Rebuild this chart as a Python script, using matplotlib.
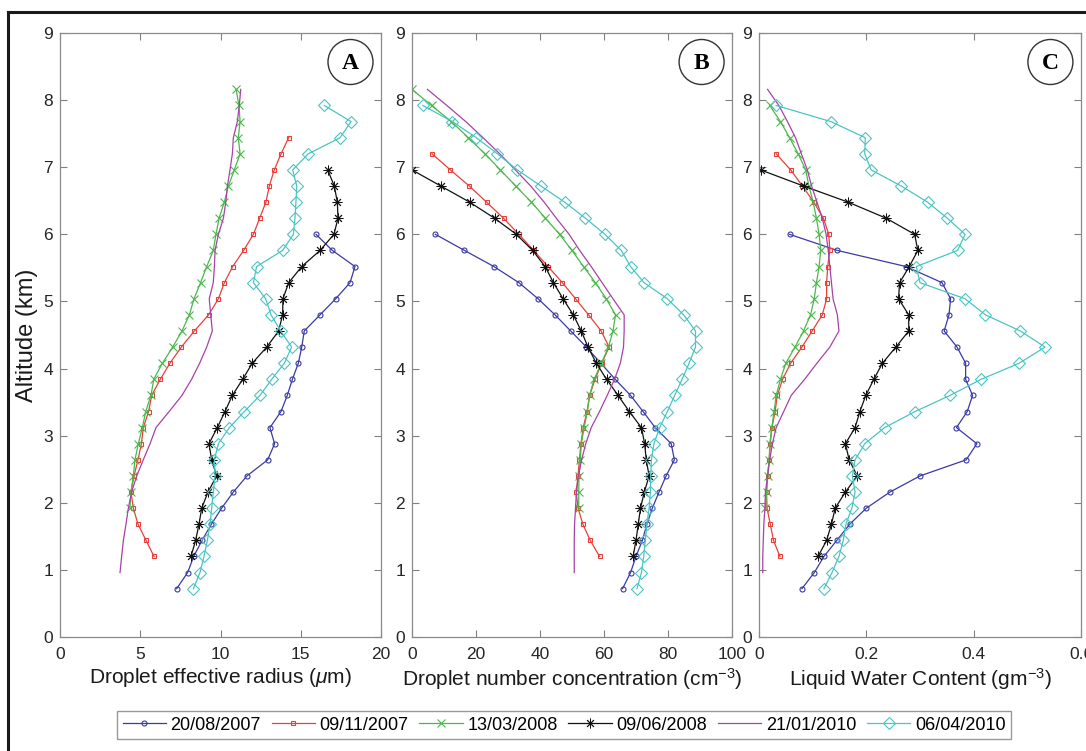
import matplotlib
matplotlib.use("Agg")
import matplotlib.pyplot as plt
from matplotlib.patches import Ellipse
from matplotlib.lines import Line2D

plt.rcParams['font.family'] = ['Liberation Sans', 'DejaVu Sans']
plt.rcParams['mathtext.fontset'] = 'custom'
plt.rcParams['mathtext.rm'] = 'Liberation Sans'
plt.rcParams['mathtext.it'] = 'Liberation Sans:italic'

# date delle campagne (legenda)
dates = ['20/08/2007', '09/11/2007', '13/03/2008', '09/06/2008', '21/01/2010', '06/04/2010']

# quote (km), dall'alto verso il basso
alt_blue = [6.00, 5.76, 5.52, 5.28, 5.04, 4.80, 4.56, 4.32, 4.08, 3.84, 3.60, 3.36,
            3.12, 2.88, 2.64, 2.40, 2.16, 1.92, 1.68, 1.44, 1.20, 0.96, 0.72]
alt_red_a = [7.44, 7.20, 6.96, 6.72, 6.48, 6.24, 6.00, 5.76, 5.52, 5.28, 5.04, 4.80, 4.56,
             4.32, 4.08, 3.84, 3.60, 3.36, 3.12, 2.88, 2.64, 2.40, 2.16, 1.92, 1.68, 1.44, 1.20]
alt_red = [7.20, 6.96, 6.72, 6.48, 6.24, 6.00, 5.76, 5.52, 5.28, 5.04, 4.80, 4.56,
           4.32, 4.08, 3.84, 3.60, 3.36, 3.12, 2.88, 2.64, 2.40, 2.16, 1.92, 1.68, 1.44, 1.20]
alt_green = [8.16, 7.92, 7.68, 7.44, 7.20, 6.96, 6.72, 6.48, 6.24, 6.00, 5.76, 5.52, 5.28, 5.04,
             4.80, 4.56, 4.32, 4.08, 3.84, 3.60, 3.36, 3.12, 2.88, 2.64, 2.40, 2.16, 1.92]
alt_green_c = [7.92, 7.68, 7.44, 7.20, 6.96, 6.72, 6.48, 6.24, 6.00, 5.76, 5.52, 5.28, 5.04,
               4.80, 4.56, 4.32, 4.08, 3.84, 3.60, 3.36, 3.12, 2.88, 2.64, 2.40, 2.16, 1.92]
alt_black = [6.96, 6.72, 6.48, 6.24, 6.00, 5.76, 5.52, 5.28, 5.04, 4.80, 4.56, 4.32, 4.08,
             3.84, 3.60, 3.36, 3.12, 2.88, 2.64, 2.40, 2.16, 1.92, 1.68, 1.44, 1.20]
alt_magenta = [8.16, 7.92, 7.68, 7.44, 7.20, 6.96, 6.72, 6.48, 6.24, 6.00, 5.76, 5.52, 5.28, 5.04,
               4.80, 4.56, 4.32, 4.08, 3.84, 3.60, 3.36, 3.12, 2.88, 2.64, 2.40, 2.16, 1.92,
               1.68, 1.44, 1.20, 0.96]
alt_cyan = [7.92, 7.68, 7.44, 7.20, 6.96, 6.72, 6.48, 6.24, 6.00, 5.76, 5.52, 5.28, 5.04,
            4.80, 4.56, 4.32, 4.08, 3.84, 3.60, 3.36, 3.12, 2.88, 2.64, 2.40, 2.16, 1.92,
            1.68, 1.44, 1.20, 0.96, 0.72]

# A - raggio efficace (um)
reff_blue = [15.95, 16.97, 18.38, 18.07, 17.18, 16.2, 15.22, 15.06, 14.85, 14.48, 14.16, 13.77,
             13.08, 13.37, 12.94, 11.65, 10.8, 10.07, 9.43, 8.85, 8.33, 7.95, 7.27]
reff_red = [14.25, 13.77, 13.35, 13.04, 12.83, 12.44, 12.05, 11.44, 10.76, 10.24, 9.87, 9.26, 8.37,
            7.56, 6.85, 6.25, 5.71, 5.52, 5.19, 5.07, 4.86, 4.61, 4.42, 4.57, 4.86, 5.36, 5.86]
reff_green = [10.97, 11.15, 11.22, 11.11, 11.22, 10.86, 10.49, 10.24, 9.91, 9.72, 9.55, 9.14, 8.76,
              8.35, 8.06, 7.6, 7.02, 6.38, 5.84, 5.67, 5.34, 5.13, 4.88, 4.67, 4.57, 4.42, 4.36]
reff_black = [16.68, 17.09, 17.28, 17.32, 17.07, 16.2, 15.06, 14.25, 13.89, 13.87, 13.62, 12.88,
              11.98, 11.38, 10.74, 10.28, 9.8, 9.28, 9.45, 9.76, 9.22, 8.83, 8.66, 8.45, 8.16]
reff_magenta = [11.26, 11.17, 11.05, 10.8, 10.74, 10.59, 10.43, 10.33, 10.18, 9.87, 9.66, 9.62,
                9.55, 9.3, 9.39, 9.49, 9.14, 8.7, 8.2, 7.6, 6.8, 5.98, 5.61, 5.19, 4.78, 4.46,
                4.26, 4.11, 3.95, 3.84, 3.74]
reff_cyan = [16.47, 18.13, 17.45, 15.47, 14.5, 14.75, 14.7, 14.64, 14.54, 13.87, 12.25, 12.05,
             12.81, 13.15, 13.75, 14.43, 13.98, 13.19, 12.46, 11.49, 10.55, 9.87, 9.62, 9.66,
             9.55, 9.45, 9.35, 9.18, 8.97, 8.72, 8.31]

# B - concentrazione (cm^-3)
nc_blue = [7.3, 16.4, 25.6, 33.4, 39.4, 44.7, 49.6, 54.5, 59, 63.5, 68.3, 72.2, 76, 81, 82,
           79.4, 77.2, 75.1, 73.4, 72, 70, 68.3, 65.8]
nc_red = [6.25, 12, 17.9, 23.3, 28.6, 33.4, 38, 42.5, 47, 51.1, 55.2, 59.1, 61.6, 59.3, 57.2,
          55.5, 54.7, 53.5, 52.8, 52.3, 51.9, 51.3, 51.9, 53.4, 55.7, 58.6]
nc_green = [0, 6.1, 12.3, 17.6, 22.8, 27.6, 32.4, 37.3, 41.7, 46.1, 50, 53.6, 57.3, 60.7, 63.6,
            62.8, 61.4, 59.2, 56.9, 55.5, 54.8, 53.8, 52.9, 52.6, 52.2, 52.1, 52.1]
nc_black = [0, 9, 18, 25.8, 32.6, 37.7, 41.6, 44.2, 47.2, 50.4, 52.9, 55, 57.6, 60.8, 64.4,
            67.9, 71.7, 72.7, 73.2, 74.1, 72.6, 71.4, 70.7, 70, 69.1]
nc_magenta = [4.8, 10.9, 16.8, 22.2, 27.4, 32.3, 37.1, 41.3, 45.1, 49.1, 52.4, 56, 59.4, 62.8,
              66.3, 66.3, 66.1, 65.1, 63.3, 61, 58.6, 56, 54.3, 53, 52, 51.4, 51.1, 50.8,
              50.7, 50.7, 50.7]
nc_cyan = [3.4, 12.6, 20.1, 26.7, 32.9, 40.3, 47.7, 54.2, 60.3, 65.4, 68.3, 72.5, 79.8, 84.9,
           88.6, 88.6, 86.6, 84.4, 82.1, 79.8, 77.4, 75.6, 74.8, 74.6, 74.5, 74.1, 73.4, 72.9,
           72.4, 71.7, 70.3]

# C - contenuto d'acqua liquida (g m^-3)
lwc_blue = [0.057, 0.146, 0.274, 0.341, 0.357, 0.354, 0.345, 0.369, 0.385, 0.385, 0.398, 0.388,
            0.368, 0.406, 0.386, 0.3, 0.244, 0.2, 0.169, 0.145, 0.121, 0.103, 0.08]
lwc_red = [0.032, 0.059, 0.081, 0.102, 0.12, 0.13, 0.132, 0.128, 0.126, 0.126, 0.118, 0.099,
           0.08, 0.059, 0.044, 0.034, 0.03, 0.024, 0.021, 0.019, 0.016, 0.014, 0.015, 0.021,
           0.027, 0.039]
lwc_green = [0.02, 0.04, 0.057, 0.073, 0.087, 0.093, 0.101, 0.107, 0.112, 0.115, 0.112, 0.107,
             0.103, 0.096, 0.083, 0.067, 0.05, 0.04, 0.032, 0.028, 0.024, 0.02, 0.019, 0.016,
             0.014, 0.012]
lwc_black = [0.003, 0.083, 0.166, 0.237, 0.29, 0.296, 0.28, 0.262, 0.26, 0.279, 0.279, 0.255,
             0.23, 0.214, 0.199, 0.188, 0.179, 0.161, 0.168, 0.183, 0.161, 0.142, 0.135, 0.126, 0.11]
lwc_magenta = [0.016, 0.037, 0.053, 0.068, 0.079, 0.09, 0.098, 0.108, 0.118, 0.125, 0.129, 0.132,
               0.135, 0.138, 0.146, 0.149, 0.132, 0.108, 0.085, 0.06, 0.046, 0.032, 0.025, 0.02,
               0.016, 0.012, 0.011, 0.009, 0.008, 0.007, 0.007]
lwc_cyan = [0.032, 0.134, 0.198, 0.197, 0.209, 0.265, 0.314, 0.351, 0.384, 0.37, 0.293, 0.3,
            0.384, 0.422, 0.487, 0.533, 0.485, 0.414, 0.356, 0.291, 0.234, 0.197, 0.179, 0.174,
            0.179, 0.173, 0.162, 0.157, 0.149, 0.136, 0.121]

xlabels = ['Droplet effective radius ($\\mu$m)',
           'Droplet number concentration (cm$^{-3}$)',
           'Liquid Water Content (gm$^{-3}$)']
xticks = [[0, 5, 10, 15, 20], [0, 20, 40, 60, 80, 100], [0, 0.2, 0.4, 0.6]]
xticklabels = [['0', '5', '10', '15', '20'], ['0', '20', '40', '60', '80', '100'],
               ['0', '0.2', '0.4', '0.6']]
panel_letters = ['A', 'B', 'C']

# stile delle serie: colore, marker, dimensione
styles = [('#3a3aa6', 'o', 3.6),
          ('#e8403a', 's', 3.0),
          ('#4cb84c', 'x', 5.5),
          ('#111111', (8, 2, 0), 7.0),
          ('#a842a8', '', 0),
          ('#4cc4c4', 'D', 6.5)]

panels = [
    [(alt_blue, reff_blue), (alt_red_a, reff_red), (alt_green, reff_green),
     (alt_black, reff_black), (alt_magenta, reff_magenta), (alt_cyan, reff_cyan)],
    [(alt_blue, nc_blue), (alt_red, nc_red), (alt_green, nc_green),
     (alt_black, nc_black), (alt_magenta, nc_magenta), (alt_cyan, nc_cyan)],
    [(alt_blue, lwc_blue), (alt_red, lwc_red), (alt_green_c, lwc_green),
     (alt_black, lwc_black), (alt_magenta, lwc_magenta), (alt_cyan, lwc_cyan)],
]

W, H = 1086, 751
fig = plt.figure(figsize=(W / 100, H / 100), dpi=100)

# posizioni degli assi in pixel (sinistra, destra)
ax_px = [(60, 381), (412, 732), (759, 1081)]
top_px, bot_px = 33, 637

handles = []
for i in range(3):
    l, r = ax_px[i]
    ax = fig.add_axes([l / W, 1 - bot_px / H, (r - l) / W, (bot_px - top_px) / H])
    for j in range(6):
        alt, val = panels[i][j]
        col, mk, ms = styles[j]
        mew = 0.65 if j == 3 else 0.8
        h, = ax.plot(val, alt, color=col, lw=0.9, marker=mk if mk else None,
                     markersize=ms, markerfacecolor='none', markeredgecolor=col,
                     markeredgewidth=mew, label=dates[j])
        if i == 0:
            handles.append(h)
    ax.set_xlim(xticks[i][0], xticks[i][-1])
    ax.set_ylim(0, 9)
    ax.set_yticks(range(10))
    ax.set_xticks(xticks[i])
    ax.set_xticklabels(xticklabels[i])
    ax.tick_params(direction='in', top=True, right=True, length=5, width=0.8,
                   color='#808080', labelcolor='#262626', labelsize=12.5)
    ax.tick_params(axis='x', pad=7)
    ax.tick_params(axis='y', pad=5)
    for s in ax.spines.values():
        s.set_color('#8a8a8a')
        s.set_linewidth(0.9)
    ax.set_xlabel(xlabels[i], fontsize=15, labelpad=3, color='#1a1a1a')
    if i == 0:
        ax.set_ylabel('Altitude (km)', fontsize=17, labelpad=4, color='#1a1a1a')
    # lettera del pannello nel cerchio
    cx, cy = 0.905, 0.952
    ax.add_patch(Ellipse((cx, cy), 45 / (r - l), 45 / (bot_px - top_px),
                         transform=ax.transAxes, fc='white', ec='#333333', lw=1.0, zorder=5))
    ax.text(cx, cy - 0.002, panel_letters[i], transform=ax.transAxes, ha='center', va='center',
            fontsize=17, fontweight='bold', family='Liberation Serif', zorder=6)

fig.legend(handles=handles, loc='center', bbox_to_anchor=(564 / W, 1 - 725 / H), ncol=6,
           fontsize=13, handlelength=2.4, handletextpad=0.25, columnspacing=0.6,
           frameon=True, fancybox=False, edgecolor='#808080', borderpad=0.3)

# cornice esterna
fig.add_artist(Line2D([8 / W, 8 / W], [0, 1 - 12 / H], color='#1a1a1a', lw=2.2,
                      transform=fig.transFigure))
fig.add_artist(Line2D([8 / W, 1], [1 - 12 / H, 1 - 12 / H], color='#1a1a1a', lw=2.2,
                      transform=fig.transFigure))

fig.savefig('out.png', dpi=100)
